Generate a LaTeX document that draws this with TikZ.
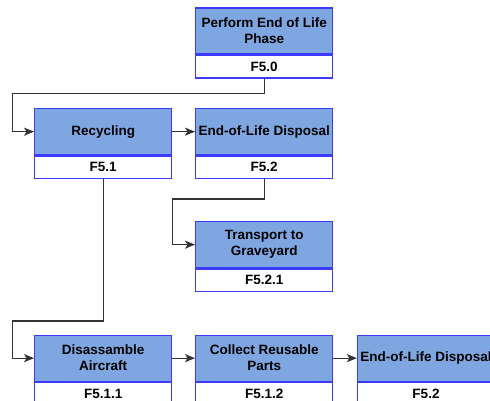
\documentclass[tikz,border=0pt]{standalone}
\usepackage{fontspec}
\setmainfont{Liberation Sans}
\usetikzlibrary{arrows.meta}
\definecolor{headfill}{HTML}{7EA6E0}
\definecolor{boxline}{HTML}{3B3BFF}
\definecolor{wire}{HTML}{333333}
\tikzset{
  head/.style={draw=boxline, line width=1.3pt, fill=headfill, minimum width=137pt,
    minimum height=46pt, inner sep=0pt, align=center, anchor=north,
    font=\fontsize{13.5}{16}\selectfont\bfseries},
  idbox/.style={draw=boxline, line width=1.3pt, fill=white, minimum width=137pt,
    minimum height=22.5pt, inner sep=0pt, anchor=north,
    font=\fontsize{13.5}{16}\selectfont\bfseries},
  wirearrow/.style={draw=wire, line width=1.3pt, -{Stealth[length=10pt,width=8pt,inset=2.5pt]}},
}
\begin{document}
\begin{tikzpicture}[x=1pt,y=-1pt]
\useasboundingbox (0,0) rectangle (490,401);
\clip (0,0) rectangle (490,401);
\fill[white] (0,0) rectangle (490,401);

% function blocks: title part on top, identifier below
\node[head] (p0) at (264.2,7.5) {Perform End of Life\\Phase};
\node[idbox] (p0id) at (p0.south) {F5.0};

\node[head] (rec) at (103.2,108) {Recycling};
\node[idbox] (recid) at (rec.south) {F5.1};

\node[head] (eol) at (264.2,108) {End-of-Life Disposal};
\node[idbox] (eolid) at (eol.south) {F5.2};

\node[head] (tra) at (264.2,221) {Transport to\\Graveyard};
\node[idbox] (traid) at (tra.south) {F5.2.1};

\node[head] (dis) at (103.2,334.5) {Disassamble\\Aircraft};
\node[idbox] (disid) at (dis.south) {F5.1.1};

\node[head] (col) at (264.2,334.5) {Collect Reusable\\Parts};
\node[idbox] (colid) at (col.south) {F5.1.2};

\node[head] (eol2) at (426,334.5) {End-of-Life Disposal};
\node[idbox] (eol2id) at (eol2.south) {F5.2};

% bends of the elbow connectors
\coordinate (k1) at (12.7,93.7);
\coordinate (k2) at (172.7,199);
\coordinate (k3) at (12.7,321);

\draw[wirearrow] (p0id.south) |- (k1) |- (rec.west);
\draw[wirearrow] (eolid.south) |- (k2) |- (tra.west);
\draw[wirearrow] (recid.south) |- (k3) |- (dis.west);
\draw[wirearrow] (rec.east) -- (eol.west);
\draw[wirearrow] (dis.east) -- (col.west);
\draw[wirearrow] (col.east) -- (eol2.west);
\end{tikzpicture}
\end{document}
